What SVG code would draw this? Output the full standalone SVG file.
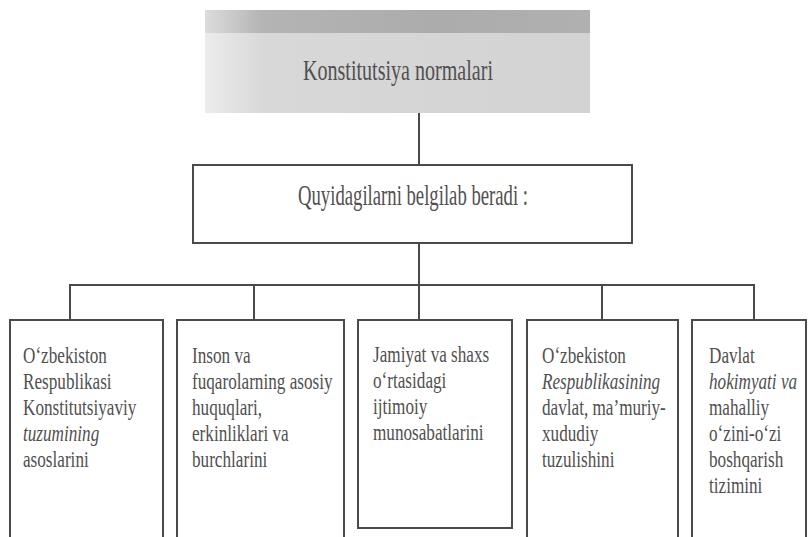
<svg xmlns="http://www.w3.org/2000/svg" width="809" height="537" viewBox="0 0 809 537">
  <defs>
    <linearGradient id="bandGrad" x1="205" y1="0" x2="590" y2="0" gradientUnits="userSpaceOnUse">
      <stop offset="0" stop-color="#dcdcdc"/>
      <stop offset="0.15" stop-color="#b4b4b4"/>
      <stop offset="0.6" stop-color="#acacac"/>
      <stop offset="1" stop-color="#b0b0b0"/>
    </linearGradient>
    <linearGradient id="bodyGrad" x1="205" y1="0" x2="590" y2="0" gradientUnits="userSpaceOnUse">
      <stop offset="0" stop-color="#ececec"/>
      <stop offset="0.15" stop-color="#d8d8d8"/>
      <stop offset="1" stop-color="#d3d3d3"/>
    </linearGradient>
    <style>
      .box { fill: #ffffff; stroke: #4a4a4a; stroke-width: 2; }
      .edge { fill: none; stroke: #4a4a4a; stroke-width: 2; }
      .conn { fill: none; stroke: #4a4a4a; stroke-width: 2; }
      .t { font-family: "Liberation Serif", "Times New Roman", serif; fill: #505050; }
      .big { font-size: 30px; }
      .mid { font-size: 29px; }
      .sm { font-size: 23px; }
      .it { font-style: italic; }
    </style>
  </defs>
  <rect width="809" height="537" fill="#ffffff"/>

  <g id="connectors">
    <line class="conn" x1="419" y1="113" x2="419" y2="165"/>
    <line class="conn" x1="419" y1="243" x2="419" y2="285"/>
    <line class="conn" x1="69" y1="285" x2="755" y2="285"/>
    <line class="conn" x1="70" y1="285" x2="70" y2="320"/>
    <line class="conn" x1="254" y1="285" x2="254" y2="320"/>
    <line class="conn" x1="419" y1="285" x2="419" y2="320"/>
    <line class="conn" x1="602" y1="285" x2="602" y2="320"/>
    <line class="conn" x1="754" y1="285" x2="754" y2="320"/>
  </g>

  <g id="node-title">
    <rect x="205" y="10" width="385" height="23" fill="url(#bandGrad)"/>
    <rect x="205" y="33" width="385" height="80" fill="url(#bodyGrad)"/>
    <text class="t big" x="398" y="80" text-anchor="middle" textLength="190" lengthAdjust="spacingAndGlyphs">Konstitutsiya normalari</text>
  </g>

  <g id="node-belgilab">
    <rect class="box" x="193" y="165" width="439" height="78"/>
    <text class="t mid" x="413" y="205" text-anchor="middle" textLength="230" lengthAdjust="spacingAndGlyphs">Quyidagilarni belgilab beradi :</text>
  </g>

  <g id="node-1">
    <path class="edge" d="M10,537 V320 H163 V537"/>
    <g transform="translate(23,0) scale(0.746,1)">
      <text class="t sm" x="0" y="363">O‘zbekiston</text>
      <text class="t sm" x="0" y="389">Respublikasi</text>
      <text class="t sm" x="0" y="415">Konstitutsiyaviy</text>
      <text class="t sm it" x="0" y="441">tuzumining</text>
      <text class="t sm" x="0" y="467">asoslarini</text>
    </g>
  </g>

  <g id="node-2">
    <path class="edge" d="M177,537 V320 H344 V537"/>
    <g transform="translate(192,0) scale(0.746,1)">
      <text class="t sm" x="0" y="363">Inson va</text>
      <text class="t sm" x="0" y="389">fuqarolarning asosiy</text>
      <text class="t sm" x="0" y="415">huquqlari,</text>
      <text class="t sm" x="0" y="441">erkinliklari va</text>
      <text class="t sm" x="0" y="467">burchlarini</text>
    </g>
  </g>

  <g id="node-3">
    <rect class="box" x="358" y="320" width="154" height="208"/>
    <g transform="translate(373,0) scale(0.746,1)">
      <text class="t sm" x="0" y="362">Jamiyat va shaxs</text>
      <text class="t sm" x="0" y="388">o‘rtasidagi</text>
      <text class="t sm" x="0" y="414">ijtimoiy</text>
      <text class="t sm" x="0" y="440">munosabatlarini</text>
    </g>
  </g>

  <g id="node-4">
    <path class="edge" d="M527,537 V320 H678 V537"/>
    <g transform="translate(542,0) scale(0.746,1)">
      <text class="t sm" x="0" y="363">O‘zbekiston</text>
      <text class="t sm it" x="0" y="389">Respublikasining</text>
      <text class="t sm" x="0" y="415">davlat, ma’muriy-</text>
      <text class="t sm" x="0" y="441">xududiy</text>
      <text class="t sm" x="0" y="467">tuzulishini</text>
    </g>
  </g>

  <g id="node-5">
    <path class="edge" d="M692,537 V320 H806 V537"/>
    <g transform="translate(709,0) scale(0.746,1)">
      <text class="t sm" x="0" y="363">Davlat</text>
      <text class="t sm it" x="0" y="389">hokimyati va</text>
      <text class="t sm" x="0" y="415">mahalliy</text>
      <text class="t sm" x="0" y="441">o‘zini-o‘zi</text>
      <text class="t sm" x="0" y="467">boshqarish</text>
      <text class="t sm" x="0" y="493">tizimini</text>
    </g>
  </g>
</svg>
